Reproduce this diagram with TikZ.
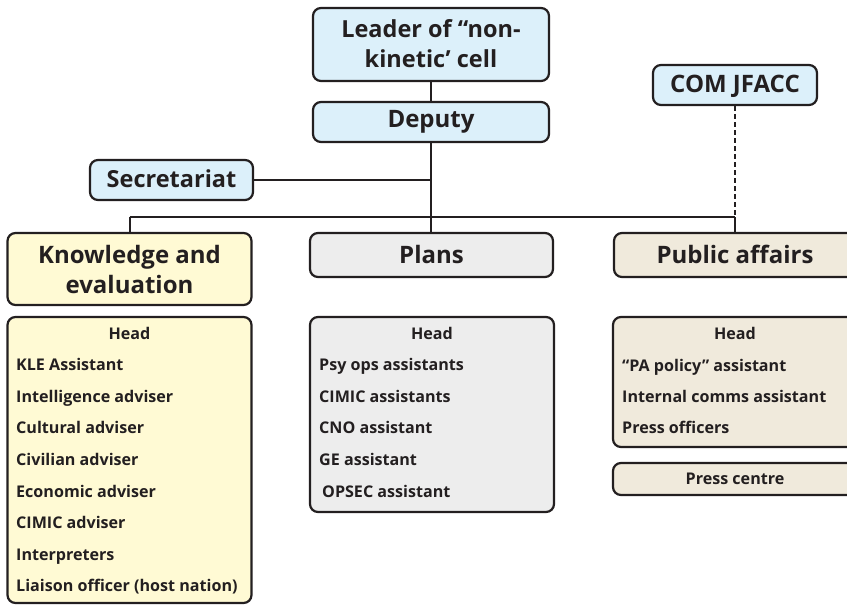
\documentclass[tikz,border=0pt]{standalone}
\usepackage{fontspec}
\setmainfont{Open Sans}
\definecolor{linec}{RGB}{35,31,32}
\definecolor{txtc}{RGB}{35,31,32}
\definecolor{blueF}{RGB}{220,240,250}
\definecolor{yellowF}{RGB}{255,250,212}
\definecolor{greyF}{RGB}{237,237,237}
\definecolor{beigeF}{RGB}{240,234,220}
\tikzset{
  box/.style={draw=linec, line width=2.2pt, rounded corners=8pt, inner sep=0pt},
  conn/.style={draw=linec, line width=2pt},
  dconn/.style={draw=linec, line width=2pt, dash pattern=on 5pt off 3pt},
  lbl/.style={anchor=base, inner sep=0pt, text=txtc, font=\bfseries\fontsize{#1}{#1}\selectfont},
  item/.style={anchor=base west, inner sep=0pt, text=txtc, font=\bfseries\fontsize{16.1}{18}\selectfont},
  itemc/.style={anchor=base, inner sep=0pt, text=txtc, font=\bfseries\fontsize{16.1}{18}\selectfont},
}
\begin{document}
\begin{tikzpicture}[x=1pt,y=-1pt]
\useasboundingbox (0,0) rectangle (847,605);
\clip (0,0) rectangle (847,605);
\fill[white] (0,0) rectangle (847,605);
% boxes
\node[box, fill=blueF, minimum width=236pt, minimum height=73pt] (leader) at (431,44.5) {};
\node[box, fill=blueF, minimum width=236pt, minimum height=40pt] (deputy) at (431,122) {};
\node[box, fill=blueF, minimum width=164pt, minimum height=40pt] (com) at (735,85) {};
\node[box, fill=blueF, minimum width=163pt, minimum height=40pt] (secr) at (171.5,180) {};
\node[box, fill=yellowF, minimum width=244pt, minimum height=72pt] (know) at (129.5,269) {};
\node[box, fill=greyF, minimum width=243pt, minimum height=44pt] (plans) at (431.5,255) {};
\node[box, fill=beigeF, minimum width=242pt, minimum height=44pt] (pa) at (735,255) {};
\node[box, fill=yellowF, minimum width=244pt, minimum height=286pt] (klist) at (129.5,460) {};
\node[box, fill=greyF, minimum width=244pt, minimum height=195pt] (plist) at (432,414.5) {};
\node[box, fill=beigeF, minimum width=244pt, minimum height=130pt] (palist) at (735,382) {};
\node[box, fill=beigeF, minimum width=244pt, minimum height=32pt] (press) at (735,479) {};
% connectors
\coordinate (jL) at (129.5,217);
\coordinate (jM) at (431,217);
\coordinate (jR) at (735,217);
\draw[conn] (leader.south) -- (deputy.north);
\draw[conn] (deputy.south) -- (jM);
\draw[conn] (secr.east) -- (secr.east -| jM);
\draw[conn] (jL) -- (jR);
\draw[conn] (jL) -- (know.north);
\draw[conn] (jM) -- (jM |- plans.north);
\draw[conn] (jR) -- (pa.north);
\draw[dconn] (com.south) -- (jR);
% titles
\node[lbl=23.5] (tleader1) at (431,37) {Leader of “non-};
\node[lbl=23.5] (tleader2) at (431,67) {kinetic’ cell};
\node[lbl=24] (tdeputy) at (431,127) {Deputy};
\node[lbl=24] (tcom) at (735,92) {COM JFACC};
\node[lbl=23.5] (tsecr) at (171.5,187) {Secretariat};
\node[lbl=24] (tknow1) at (129.5,263) {Knowledge and};
\node[lbl=24] (tknow2) at (129.5,293) {evaluation};
\node[lbl=24] (tplans) at (431.5,263) {Plans};
\node[lbl=24] (tpa) at (735,263) {Public affairs};
% knowledge list
\node[itemc] (kh) at (129.5,339) {Head};
\node[item] (k1) at (16,370.6) {KLE Assistant};
\node[item] (k2) at (16,402.2) {Intelligence adviser};
\node[item] (k3) at (16,433.8) {Cultural adviser};
\node[item] (k4) at (16,465.4) {Civilian adviser};
\node[item] (k5) at (16,497) {Economic adviser};
\node[item] (k6) at (16,528.6) {CIMIC adviser};
\node[item] (k7) at (16,560.2) {Interpreters};
\node[item] (k8) at (16,591.8) {Liaison officer (host nation)};
% plans list
\node[itemc] (ph) at (432,339) {Head};
\node[item] (p1) at (319,370.6) {Psy ops assistants};
\node[item] (p2) at (319,402.2) {CIMIC assistants};
\node[item] (p3) at (319,433.8) {CNO assistant};
\node[item] (p4) at (319,465.4) {GE assistant};
\node[item] (p5) at (322,497) {OPSEC assistant};
% public affairs list
\node[itemc] (ah) at (735,339) {Head};
\node[item] (a1) at (622,371) {“PA policy” assistant};
\node[item] (a2) at (622,402) {Internal comms assistant};
\node[item] (a3) at (622,433) {Press officers};
\node[itemc] (pc) at (735,484) {Press centre};
\end{tikzpicture}
\end{document}
